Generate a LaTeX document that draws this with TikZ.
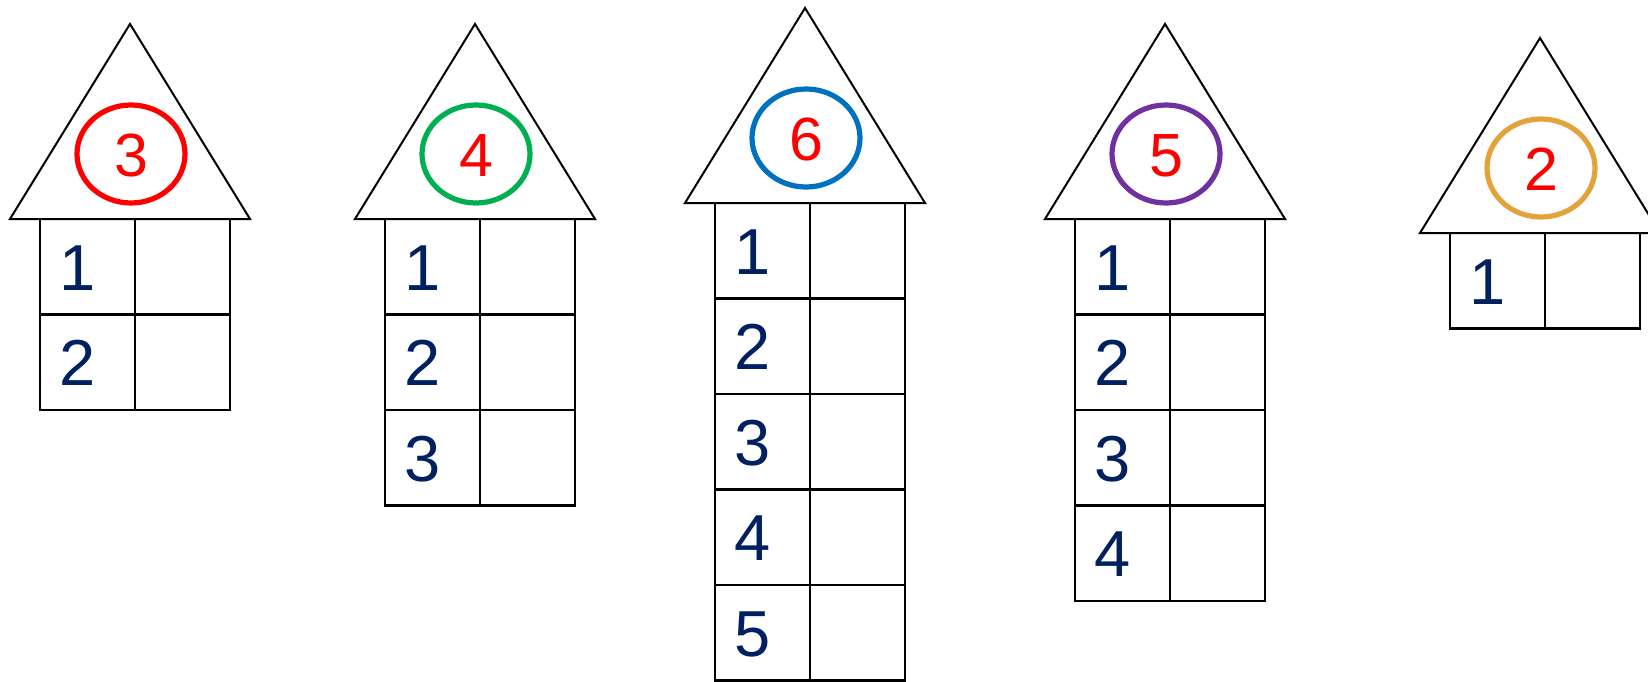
\documentclass[tikz,border=0pt]{standalone}
\usepackage{fontspec}
\setmainfont{Liberation Sans}
\usetikzlibrary{shapes.geometric}
\definecolor{navy}{HTML}{002060}
\definecolor{ringred}{HTML}{FF0000}
\definecolor{ringgreen}{HTML}{00B050}
\definecolor{ringblue}{HTML}{0070C0}
\definecolor{ringpurple}{HTML}{7030A0}
\definecolor{ringgold}{HTML}{E2A33B}
\newcommand\drawhouse[6]{%
  \coordinate (#1apex) at (#2,#3-195);
  \coordinate (#1bl) at (#2-120,#3);
  \coordinate (#1br) at (#2+120,#3);
  \draw[roof] (#1apex) -- (#1br) -- (#1bl) -- cycle;
  \node[ring, draw=#5] (#1ring) at (#2+1,#3-65) {};
  \node[topdigit] (#1num) at (#2+1,#3-43) {#6};
  \draw[cell] (#2-90,#3) rectangle (#2+100,{#3+#4*95.5});
  \draw[cell] (#2+5,#3) -- (#2+5,{#3+#4*95.5});
  \foreach \r in {1,...,#4} {
    \ifnum\r<#4\relax
      \draw[cell] (#2-90,{#3+\r*95.5}) -- (#2+100,{#3+\r*95.5});
    \fi
    \node[digit] (#1d\r) at (#2-52,{#3+(\r-1)*95.5+71}) {\r};
  }
}
\begin{document}
\begin{tikzpicture}[x=1pt,y=-1pt,
  roof/.style={draw=black, line width=2pt, line join=miter},
  cell/.style={draw=black, line width=2.6pt},
  ring/.style={ellipse, line width=5.2pt, minimum width=108pt, minimum height=98pt, inner sep=0pt},
  digit/.style={text=navy, font=\fontsize{65}{65}\selectfont, anchor=base, inner sep=0pt},
  topdigit/.style={text=red, font=\fontsize{61}{61}\selectfont, anchor=base, inner sep=0pt}]
\useasboundingbox (0,0) rectangle (1648,682);
\clip (0,0) rectangle (1648,682);
\drawhouse{a}{130}{219}{2}{ringred}{3}
\drawhouse{b}{475}{219}{3}{ringgreen}{4}
\drawhouse{c}{805}{203}{5}{ringblue}{6}
\drawhouse{d}{1165}{219}{4}{ringpurple}{5}
\drawhouse{e}{1540}{233}{1}{ringgold}{2}
\end{tikzpicture}
\end{document}
